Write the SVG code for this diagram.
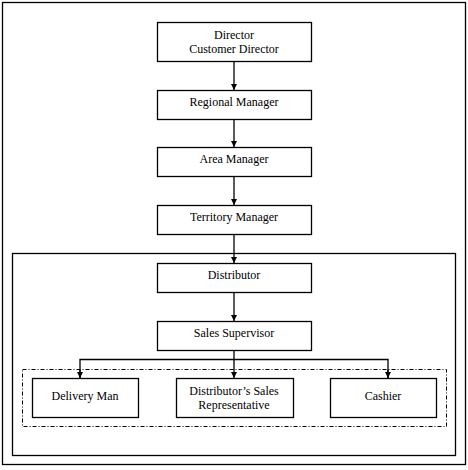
<svg xmlns="http://www.w3.org/2000/svg" width="468" height="470" viewBox="0 0 468 470">
<defs>
<marker id="arr" viewBox="0 0 6 6" refX="6" refY="3" markerWidth="6" markerHeight="6" markerUnits="userSpaceOnUse" orient="auto">
<path d="M0,0 L6,3 L0,6 Z" fill="#000"/>
</marker>
<style>
.box{fill:#fff;stroke:#000;stroke-width:1.3}
.frame{fill:none;stroke:#000;stroke-width:1.3}
.dash{fill:none;stroke:#000;stroke-width:1;stroke-dasharray:4,2,1,2}
.c{fill:none;stroke:#000;stroke-width:1.3}
</style>
</defs>
<rect width="468" height="470" fill="#fff"/>
<rect class="frame" x="2.5" y="2.5" width="463" height="462"/>
<rect class="frame" x="12.5" y="253.5" width="443" height="202"/>
<rect class="dash" x="22.5" y="369.5" width="424" height="57"/>
<g id="connectors">
<path class="c" d="M234,61 V90" marker-end="url(#arr)"/>
<path class="c" d="M234,119 V147" marker-end="url(#arr)"/>
<path class="c" d="M234,176 V205" marker-end="url(#arr)"/>
<path class="c" d="M234,234 V263" marker-end="url(#arr)"/>
<path class="c" d="M234,292 V321" marker-end="url(#arr)"/>
<path class="c" d="M234,350 V378" marker-end="url(#arr)"/>
<path class="c" d="M80,378 V359.5 H388 V378"/>
<path class="c" d="M80,370 V378" marker-end="url(#arr)"/>
<path class="c" d="M388,370 V378" marker-end="url(#arr)"/>
</g>
<g font-family="Liberation Serif" font-size="12" text-anchor="middle" fill="#000">
<g id="director">
<rect class="box" x="157.5" y="22.5" width="154" height="39"/>
<text x="234" y="39">Director</text>
<text x="234" y="53">Customer Director</text>
</g>
<g id="regional-manager">
<rect class="box" x="157.5" y="90.5" width="154" height="29"/>
<text x="234" y="106">Regional Manager</text>
</g>
<g id="area-manager">
<rect class="box" x="157.5" y="147.5" width="154" height="29"/>
<text x="234" y="163">Area Manager</text>
</g>
<g id="territory-manager">
<rect class="box" x="157.5" y="205.5" width="154" height="29"/>
<text x="234" y="221">Territory Manager</text>
</g>
<g id="distributor">
<rect class="box" x="157.5" y="263.5" width="154" height="29"/>
<text x="234" y="279">Distributor</text>
</g>
<g id="sales-supervisor">
<rect class="box" x="157.5" y="321.5" width="154" height="29"/>
<text x="234" y="337">Sales Supervisor</text>
</g>
<g id="delivery-man">
<rect class="box" x="32.5" y="378.5" width="106" height="39"/>
<text x="85" y="400">Delivery Man</text>
</g>
<g id="dsr">
<rect class="box" x="176.5" y="378.5" width="117" height="39"/>
<text x="234" y="395">Distributor’s Sales</text>
<text x="234" y="409">Representative</text>
</g>
<g id="cashier">
<rect class="box" x="330.5" y="378.5" width="106" height="39"/>
<text x="383" y="400">Cashier</text>
</g>
</g>
</svg>
